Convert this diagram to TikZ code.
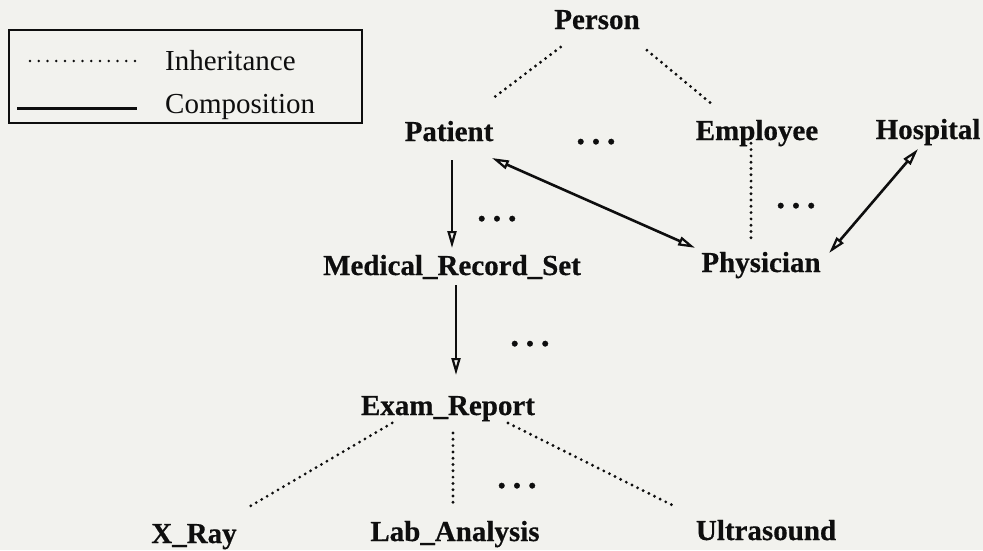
\documentclass[tikz,border=0pt]{standalone}
\usepackage{fontspec}
\setmainfont{Liberation Serif}[BoldFeatures={FakeBold=0.5}]
\usetikzlibrary{arrows.meta}
\definecolor{paper}{RGB}{242,242,238}
\definecolor{ink}{RGB}{14,14,14}
\begin{document}
\begin{tikzpicture}[x=1pt,y=-1pt,
  cls/.style={inner sep=0pt, text height=19pt, text depth=0pt,
              font=\bfseries\fontsize{29}{30}\selectfont, text=ink},
  more/.style={anchor=base, inner sep=0pt,
               font=\bfseries\fontsize{35}{36}\selectfont, text=ink},
  legtext/.style={anchor=base west, inner sep=0pt,
                  font=\fontsize{29}{30}\selectfont, text=ink},
  inh/.style={draw=ink, line width=3.2pt, line cap=round,
              dash pattern=on 0pt off 6.3pt},
  legdots/.style={draw=ink, line width=2.8pt, line cap=round,
                  dash pattern=on 0pt off 8.75pt},
  comp/.style={draw=ink, line width=2.6pt,
               >={Triangle[open,length=17pt,width=9pt,line width=2.2pt]}},
]
% page and background
\useasboundingbox[fill=paper] (0,0) rectangle (983,550);

% legend
\node[draw=ink, line width=2.4pt, minimum width=353pt, minimum height=93pt,
      inner sep=0pt] (legend) at (185.5,76.5) {};
\coordinate (inhA) at (30,61);
\coordinate (inhB) at (135,61);
\coordinate (cmpA) at (17,108);
\coordinate (cmpB) at (137,108);
\draw[legdots] (inhA) -- (inhB);
\draw[draw=ink, line width=3pt] (cmpA) -- (cmpB);
\node[legtext] (inhtxt) at (165,70) {Inheritance};
\node[legtext] (cmptxt) at (165,113) {Composition};

% classes
\node[cls] (person)     at (597,19.5)  {Person};
\node[cls] (patient)    at (449,131.5) {Patient};
\node[cls] (employee)   at (757,130.5) {Employee};
\node[cls] (hospital)   at (928,129.5) {Hospital};
\node[cls] (mrs)        at (452,265.5) {Medical\_Record\_Set};
\node[cls] (physician)  at (761,262.5) {Physician};
\node[cls] (exam)       at (448,405.5) {Exam\_Report};
\node[cls] (xray)       at (194,533.5) {X\_Ray};
\node[cls] (lab)        at (455,531.5) {Lab\_Analysis};
\node[cls] (ultra)      at (766,530.5) {Ultrasound};

% ellipses for omitted classes
\node[more] (dotsA) at (596,144) {.\kern6.5pt.\kern6.5pt.};
\node[more] (dotsB) at (497,221) {.\kern6.5pt.\kern6.5pt.};
\node[more] (dotsC) at (796,208) {.\kern6.5pt.\kern6.5pt.};
\node[more] (dotsD) at (530,346) {.\kern6.5pt.\kern6.5pt.};
\node[more] (dotsE) at (517,488) {.\kern6.5pt.\kern6.5pt.};

% inheritance
\draw[inh, shorten <=45.6pt, shorten >=52.2pt] (person.center) -- (patient.center);
\draw[inh, shorten <=48pt, shorten >=39.8pt]
  ([xshift=13pt]person.center) -- ([xshift=-13.4pt]employee.center);
\draw[inh, shorten <=6.5pt, shorten >=21.5pt]
  ([xshift=-6pt]employee.center) -- ([xshift=-10pt]physician.center);
\draw[inh, shorten <=34.6pt, shorten >=50.4pt]
  ([xshift=-26pt]exam.center) -- ([xshift=9.5pt]xray.center);
\draw[inh, shorten <=27.5pt, shorten >=28.5pt]
  ([xshift=5pt]exam.center) -- ([xshift=-2pt]lab.center);
\draw[inh, shorten <=39.1pt, shorten >=52.5pt]
  ([xshift=25pt]exam.center) -- ([xshift=-43pt]ultra.center);

% composition
\draw[comp, ->, shorten <=28.5pt, shorten >=17.5pt]
  ([xshift=3pt]patient.center) -- (mrs.center);
\draw[comp, <->, shorten <=47pt, shorten >=72.1pt]
  ([yshift=-7.5pt]patient.center) -- ([yshift=-14.5pt]physician.center);
\draw[comp, <->, shorten <=25.7pt, shorten >=12.5pt]
  ([xshift=6.7pt]hospital.center) -- ([xshift=60pt]physician.center);
\draw[comp, ->, shorten <=19.5pt, shorten >=30.5pt]
  ([xshift=4pt]mrs.center) -- ([xshift=8pt]exam.center);
\end{tikzpicture}
\end{document}
